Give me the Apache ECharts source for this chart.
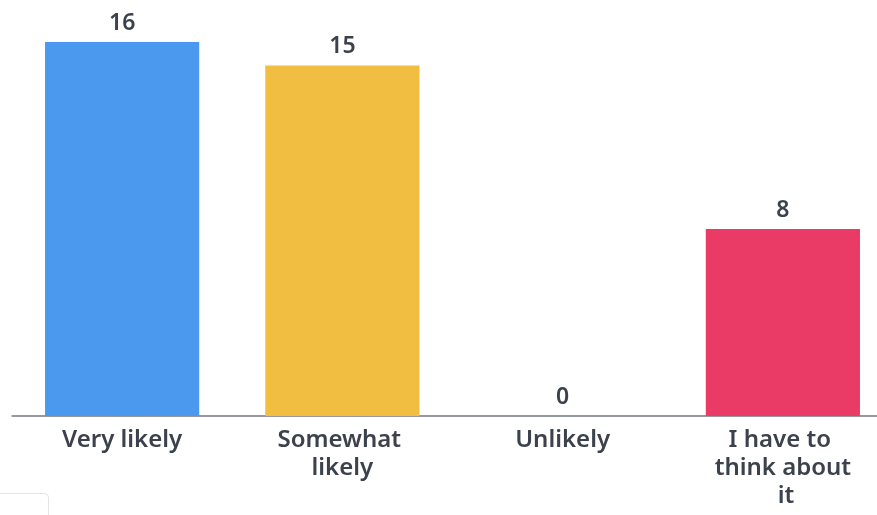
<!DOCTYPE html>
<html>
<head>
<meta charset="utf-8">
<script src="https://cdn.jsdelivr.net/npm/echarts@6/dist/echarts.min.js"></script>
<style>
  html, body { margin: 0; padding: 0; background: #fff; overflow: hidden; }
  #chart { width: 893px; height: 515px; }
</style>
</head>
<body>
<div id="chart"></div>
<script>
var categories = ['Very likely', 'Somewhat likely', 'Unlikely', 'I have to think about it'];
var answers = [16, 15, 0, 8];
var barColors = ['#4b99ee', '#f2be42', '#9aa0a6', '#e93b65'];

window.onload = function () {
    // 图比窗口略宽，右边被裁掉一点
    var myChart = echarts.init(document.getElementById('chart'));
    var option = {
        backgroundColor: '#ffffff',
        animation: false,
        grid: {
            left: 12,
            right: 0,
            top: 42,
            bottom: 99
        },
        xAxis: {
            type: 'category',
            data: categories,
            axisLine: { lineStyle: { color: '#737880', width: 1.5 } },
            axisTick: { show: false },
            axisLabel: {
                color: '#3b424c',
                fontFamily: 'Noto Sans',
                fontWeight: 600,
                fontSize: 24,
                lineHeight: 28,
                margin: 10,
                width: 140,
                overflow: 'break',
                interval: 0
            }
        },
        yAxis: {
            type: 'value',
            min: 0,
            max: 16,
            show: false
        },
        series: [{
            type: 'bar',
            barWidth: '70%',
            data: answers.map(function (v, i) {
                return { value: v, itemStyle: { color: barColors[i] } };
            }),
            label: {
                show: true,
                position: 'top',
                distance: 7,
                color: '#3b424c',
                fontFamily: 'Noto Sans',
                fontWeight: 600,
                fontSize: 23
            }
        }],
        graphic: [{
            type: 'rect',
            left: -10,
            top: 493,
            shape: { width: 58, height: 40, r: 4 },
            style: { fill: '#fff', stroke: '#e2e4e6', lineWidth: 1 }
        }]
    };
    myChart.setOption(option);
};
</script>
</body>
</html>
